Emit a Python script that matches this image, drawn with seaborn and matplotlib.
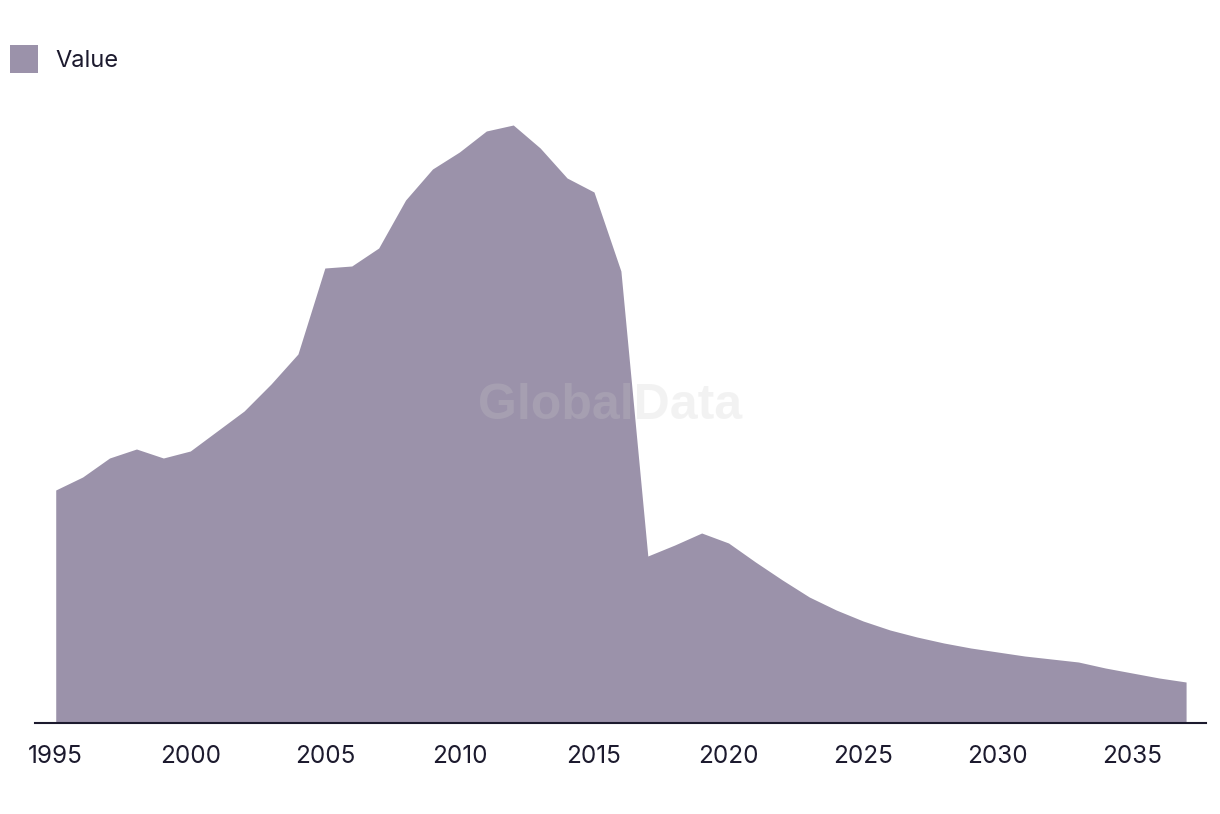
import matplotlib
matplotlib.use("Agg")
import matplotlib.pyplot as plt
import seaborn as sns
import pandas as pd

years = list(range(1995, 2038))
values = [233, 246, 265, 274, 265, 272, 292, 312, 339, 369,
          455, 457, 475, 523, 554, 571, 592, 598, 575, 545,
          531, 452, 167, 178, 190, 180, 161, 143, 126, 113,
          102, 93, 86, 80, 75, 71, 67, 64, 61, 55,
          50, 45, 41]
tick_years = [1995, 2000, 2005, 2010, 2015, 2020, 2025, 2030, 2035]
series_name = "Value"

df = pd.DataFrame({"Year": years, "Value": values})

sns.set_theme(style="white")
plt.rcParams["font.family"] = ["Inter", "DejaVu Sans"]

fill_color = "#9b92aa"
dark = "#1c1a2e"

fig = plt.figure(figsize=(12.2, 8.14), dpi=100)
ax = fig.add_axes([35/1220, 1-723/814, (1206-35)/1220, (723-101)/814])

sns.lineplot(data=df, x="Year", y="Value", ax=ax, color=fill_color, linewidth=0, legend=False)
ax.fill_between(df["Year"], 0, df["Value"], color=fill_color, linewidth=0, label=series_name)

ax.set_xlim(1994.23, 2037.74)
ax.set_ylim(0, 622)
ax.set_xticks(tick_years)
ax.set_xticklabels([str(t) for t in tick_years])
ax.set_yticks([])
ax.set_xlabel("")
ax.set_ylabel("")
for s in ["top", "right", "left"]:
    ax.spines[s].set_visible(False)
ax.spines["bottom"].set_color(dark)
ax.spines["bottom"].set_linewidth(1.5)
ax.tick_params(axis="x", length=0, pad=16, labelsize=17.5, labelcolor=dark)

ax.text(610/1171 - 35/1171, 1-(406-101)/622, "GlobalData", transform=ax.transAxes, ha="center", va="center",
        fontsize=36, fontweight="bold", family=["Liberation Sans", "DejaVu Sans"],
        color="#cbcbcb", alpha=0.23, zorder=5)

leg = fig.legend(handles=ax.collections[-1:], labels=[series_name], loc="upper left",
                 bbox_to_anchor=(10/1220, 1-45/814), frameon=False, fontsize=17,
                 handlelength=1.2, handleheight=1.45, handletextpad=0.72,
                 borderpad=0, borderaxespad=0)
for t in leg.get_texts():
    t.set_color(dark)

fig.savefig("out.png", dpi=100)
